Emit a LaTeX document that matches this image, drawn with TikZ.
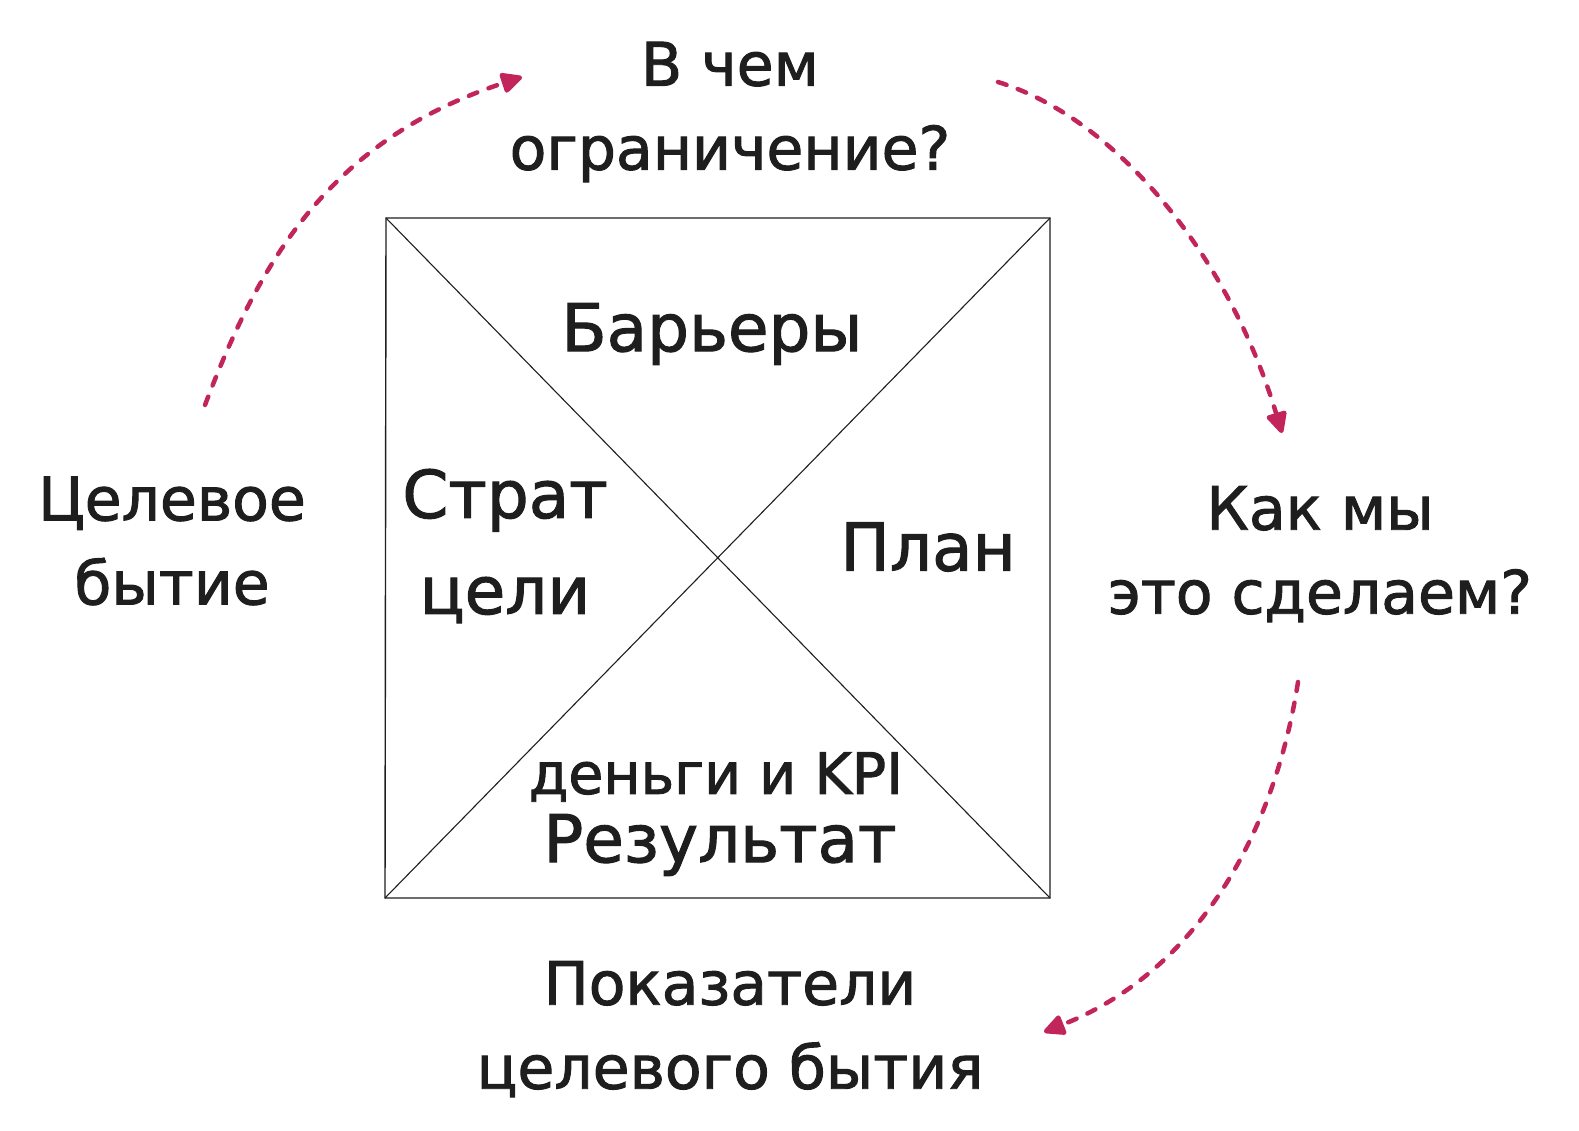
\documentclass[tikz,border=0pt]{standalone}
\usepackage{fontspec}
\setmainfont{DejaVu Sans}[FakeBold=1.6]
\usetikzlibrary{arrows.meta}
\definecolor{ink}{HTML}{1E1E1E}
\definecolor{pinkarrow}{HTML}{C2255C}
\begin{document}
\begin{tikzpicture}[x=1pt,y=-1pt,
  lbl/.style={text=ink,align=center,inner sep=0pt,font=\fontsize{60}{84}\selectfont},
  big/.style={text=ink,align=center,inner sep=0pt,font=\fontsize{66}{96}\selectfont},
  small/.style={text=ink,align=center,inner sep=0pt,font=\fontsize{57}{60}\selectfont},
  frame/.style={draw=ink,line width=1.4pt},
  flow/.style={draw=pinkarrow,line width=4.5pt,line cap=round,dash pattern=on 9pt off 12pt,
    -{Triangle[length=24pt,width=22pt,round]}}]
\useasboundingbox (0,0) rectangle (1579,1130);
% square
\coordinate (tl) at (386,218);
\coordinate (tr) at (1050,218);
\coordinate (br) at (1050,898);
\coordinate (bl) at (385,898);
\draw[frame] (tl) -- (tr) -- (br) -- (bl) -- cycle;
\draw[frame,line width=1.1pt] (tl) -- (br);
\draw[frame,line width=1.1pt] (tr) -- (bl);
% outer labels
\node[lbl] (q1) at (730,112) {В чем\\ограничение?};
\node[lbl] (q2) at (172,541) {Целевое\\бытие};
\node[lbl] (q3) at (1320,554) {Как мы\\это сделаем?};
\node[lbl] (q4) at (730,1029) {Показатели\\целевого бытия};
% inner labels
\node[big] (bar) at (712,334) {Барьеры};
\node[big] (str) at (505,546) {Страт\\цели};
\node[big] (plan) at (928,547) {План};
\node[small] (kpi) at (716,777) {деньги и KPI};
\node[big] (res) at (720,845) {Результат};
% arrows
\coordinate (a1s) at (205,405);
\coordinate (a1e) at (522,77);
\coordinate (a2s) at (998,82);
\coordinate (a2e) at (1282,433);
\coordinate (a3s) at (1298,682);
\coordinate (a3e) at (1044,1032);
\draw[flow] (a1s) .. controls (260,260) and (330,140) .. (a1e);
\draw[flow] (a2s) .. controls (1120,120) and (1230,260) .. (a2e);
\draw[flow] (a3s) .. controls (1275,830) and (1200,970) .. (a3e);
\end{tikzpicture}
\end{document}
